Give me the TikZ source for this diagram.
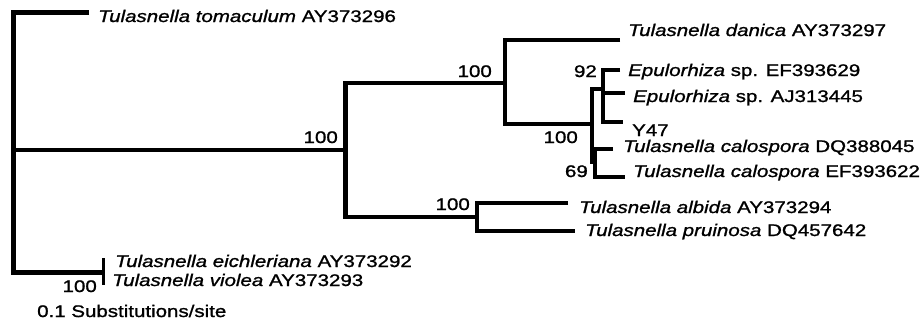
\documentclass[tikz,border=0pt]{standalone}
\usepackage{fontspec}
\setmainfont{Liberation Sans}[FakeStretch=1.22,FakeBold=1.2]
\usepackage{tikz}
\usetikzlibrary{positioning}

\begin{document}
\begin{tikzpicture}[
        x=1pt, y=-1pt,
        branch/.style={line width=4.5pt, line join=miter, line cap=butt},
        twig/.style={line width=2.8pt, line cap=butt},
        taxon/.style={anchor=base west, inner sep=0pt, font=\fontsize{16.8}{19}\selectfont},
        boot/.style={anchor=base east, inner sep=0pt, font=\fontsize{16.8}{19}\selectfont}
    ]
    \useasboundingbox (0,0) rectangle (921,327);

    % Internal nodes
    \coordinate (root) at (13.5,150);
    \coordinate (n1) at (345.5,150);
    \coordinate (n2) at (505,83);
    \coordinate (n3) at (477,217);
    \coordinate (n4) at (592,124);
    \coordinate (n5) at (603,89);
    \coordinate (n6) at (595,162);
    \coordinate (eich) at (103.5,272.5);

    % Leaf ends
    \coordinate (tomEnd) at (89,12.5);
    \coordinate (danEnd) at (620,40);
    \coordinate (epaEnd) at (620,70);
    \coordinate (epbEnd) at (625,93);
    \coordinate (y47End) at (623,122);
    \coordinate (caldEnd) at (613,149);
    \coordinate (caleEnd) at (625,177);
    \coordinate (albEnd) at (568,203);
    \coordinate (pruEnd) at (575,231);
    \coordinate (eichTop) at (103.5,258);
    \coordinate (eichBot) at (103.5,285);

    % Taxon labels
    \node[taxon] (tom) at (98,22) {\textit{Tulasnella tomaculum} AY373296};
    \node[taxon] (dan) at (628,36) {\textit{Tulasnella danica} AY373297};
    \node[taxon] (epa) at (628,76) {\textit{Epulorhiza} sp. EF393629};
    \node[taxon] (epb) at (633,102) {\textit{Epulorhiza} sp. AJ313445};
    \node[taxon] (y47) at (632,136) {Y47};
    \node[taxon] (cald) at (623,152) {\textit{Tulasnella calospora} DQ388045};
    \node[taxon] (cale) at (633,177) {\textit{Tulasnella calospora} EF393622};
    \node[taxon] (alb) at (579,213) {\textit{Tulasnella albida} AY373294};
    \node[taxon] (pru) at (585,236) {\textit{Tulasnella pruinosa} DQ457642};
    \node[taxon] (eic) at (115,267) {\textit{Tulasnella eichleriana} AY373292};
    \node[taxon] (vio) at (112,286) {\textit{Tulasnella violea} AY373293};
    \node[taxon] (scale) at (37,317) {0.1 Substitutions/site};

    % Bootstrap values
    \node[boot] (b1) at (338,143) {100};
    \node[boot] (b2) at (492,77) {100};
    \node[boot] (b3) at (470,210) {100};
    \node[boot] (b4) at (578,143) {100};
    \node[boot] (b5) at (597,77) {92};
    \node[boot] (b6) at (588,177) {69};
    \node[boot] (b7) at (97,292) {100};

    % Branches
    \draw[branch] (tomEnd) -| (root) |- (eich);
    \draw[branch] (root) -- (n1);
    \draw[branch] (n2) -| (n1) |- (n3);
    \draw[branch] (danEnd) -| (n2) |- (n4);
    \draw[branch] (n5) -| (n4) |- (n6);
    \draw[branch] (epaEnd) -| (n5) |- (y47End);
    \draw[branch] (n5 |- epbEnd) -- (epbEnd);
    \draw[branch] (caldEnd) -| (n6) |- (caleEnd);
    \draw[branch] (albEnd) -| (n3) |- (pruEnd);
    \draw[twig] (eichTop) -- (eichBot);

\end{tikzpicture}
\end{document}
